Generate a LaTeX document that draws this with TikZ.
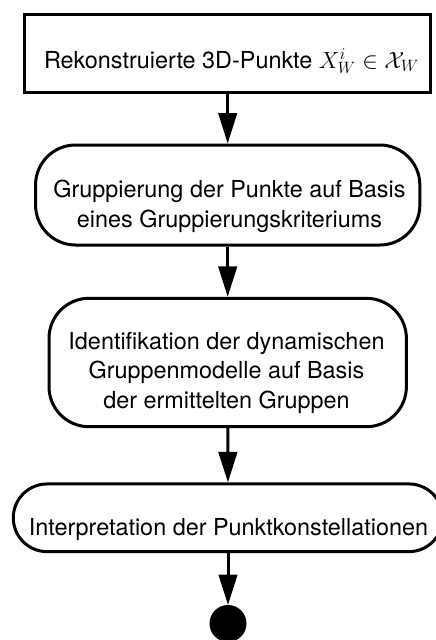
\RequirePackage{fix-cm}
\documentclass[tikz,border=0pt]{standalone}
\usepackage{fontspec}
\setmainfont{TeX Gyre Heros}
\usetikzlibrary{arrows.meta}

\begin{document}
\begin{tikzpicture}[x=1pt,y=-1pt,
  every node/.style={font=\fontsize{23.4}{29.5}\selectfont},
  stepbox/.style={draw,line width=3pt,inner sep=0pt,outer sep=1.5pt},
  actbox/.style={stepbox,rounded corners=#1},
  lbl/.style={align=center,anchor=base,inner sep=0pt,outer sep=0pt},
  flow/.style={line width=3pt,-{Triangle[width=18.5pt,length=30.5pt]}}]
\useasboundingbox (0,0) rectangle (436,640);
\clip (0,0) rectangle (436,640);

% process boxes
\node[stepbox, minimum width=406pt, minimum height=78.5pt] (b1) at (227.7,53.25) {};
\node[actbox=40pt, minimum width=384.3pt, minimum height=100pt] (b2) at (227.7,195) {};
\node[actbox=40pt, minimum width=357.4pt, minimum height=128.4pt] (b3) at (227.7,362.5) {};
\node[actbox=33.8pt, minimum width=429.4pt, minimum height=67.7pt] (b4) at (228,517.8) {};

% final state
\node[circle, fill=black, minimum size=37pt, inner sep=0pt, outer sep=0pt] (end) at (228,623.5) {};

% box labels (base anchor sits on the last line)
\node[lbl] (t1) at (231.5,68) {Rekonstruierte 3D-Punkte $X_W^i \in \mathcal{X}_W$};
\node[lbl] (t2) at (229.5,227) {Gruppierung der Punkte auf Basis\\ eines Gruppierungskriteriums};
\node[lbl] (t3) at (226.5,408) {Identifikation der dynamischen\\ Gruppenmodelle auf Basis\\ der ermittelten Gruppen};
\node[lbl] (t4) at (228.5,535) {Interpretation der Punktkonstellationen};

% control flow
\draw[flow] (b1) -- (b2);
\draw[flow] (b2) -- (b3);
\draw[flow] (b3) -- (b4);
\draw[flow] (b4) -- (end);
\end{tikzpicture}
\end{document}
